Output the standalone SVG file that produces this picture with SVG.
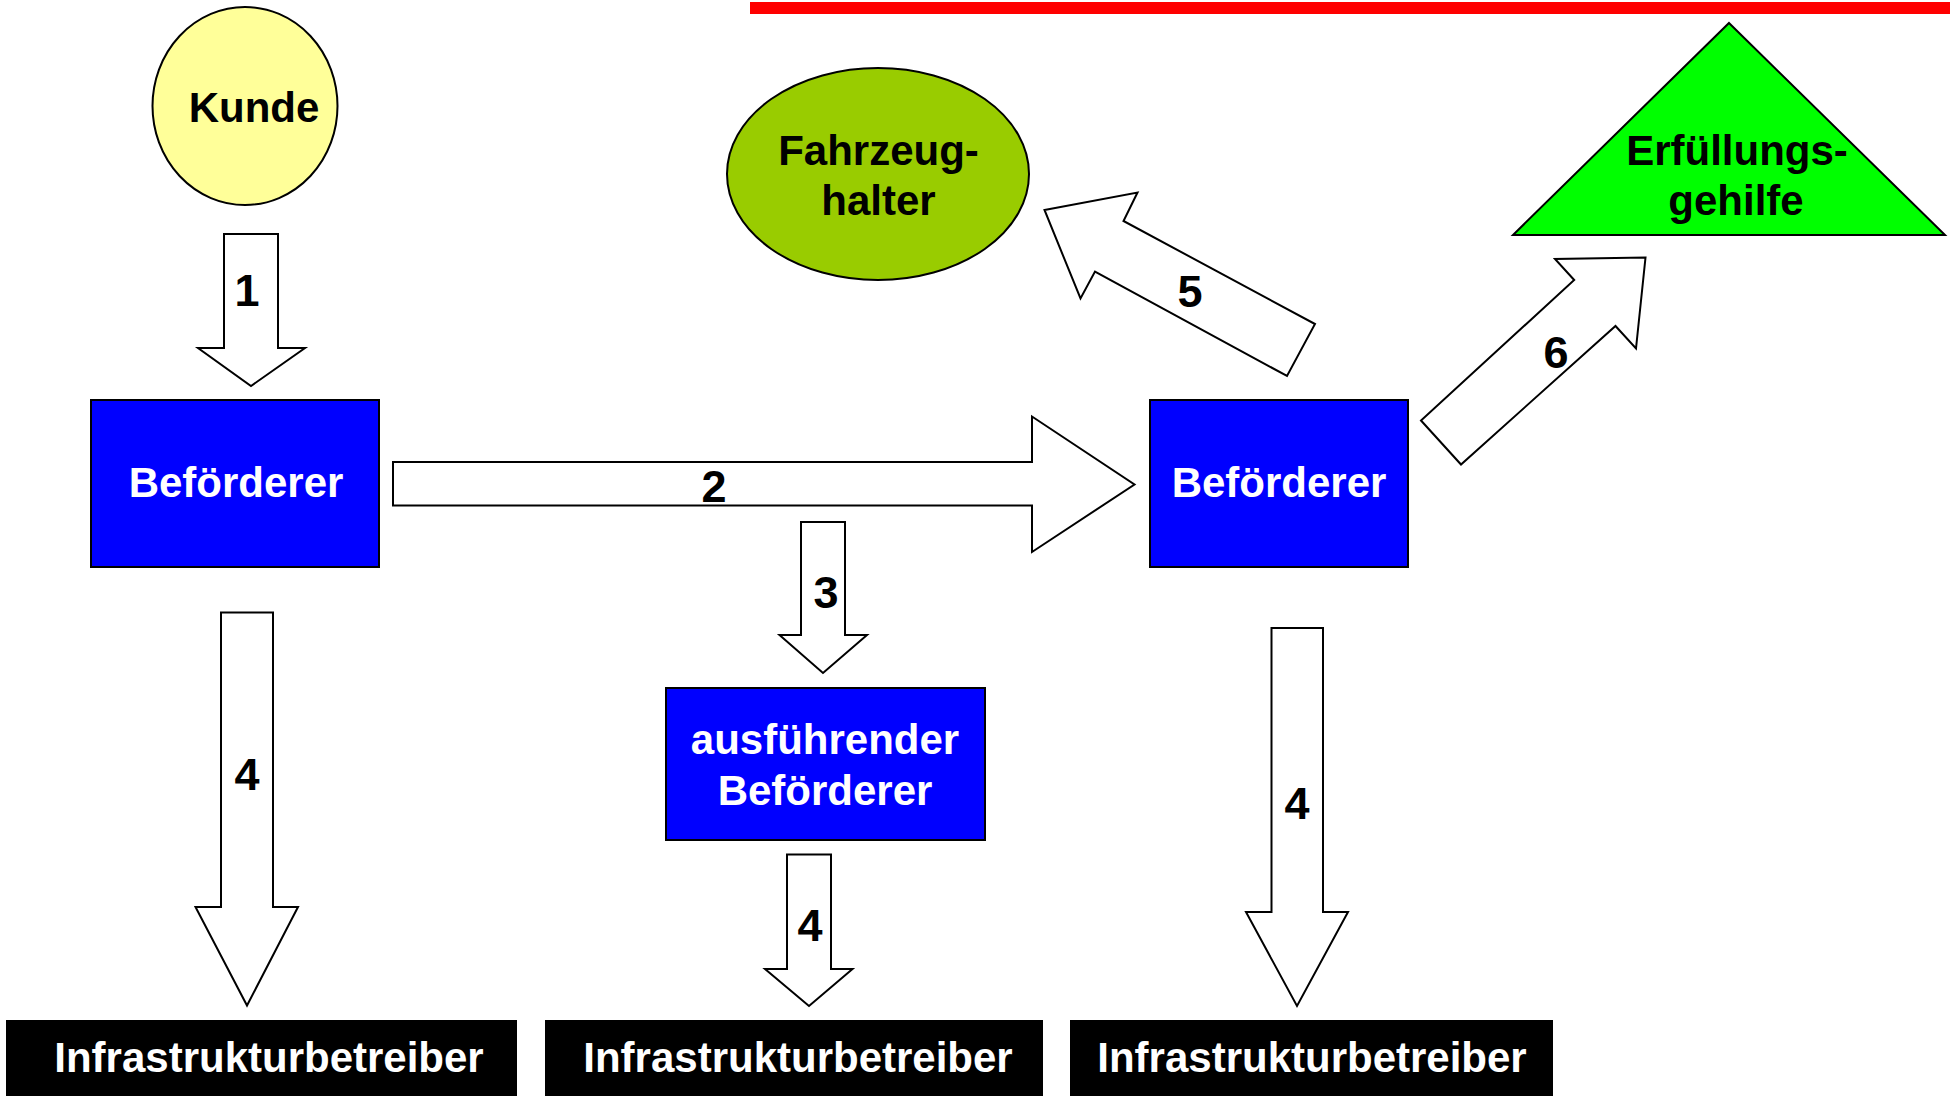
<svg xmlns="http://www.w3.org/2000/svg" width="1950" height="1096" viewBox="0 0 1950 1096">
<style>
text{font-family:"Liberation Sans",Arial,sans-serif;font-weight:bold;text-anchor:middle}
.t{font-size:42px;fill:#000}
.w{font-size:42px;fill:#fff}
.lbl{font-size:45px;fill:#000}
.box{fill:#0000FF;stroke:#000;stroke-width:2}
.infra{fill:#000}
.arr{fill:#fff;stroke:#000;stroke-width:2;stroke-linejoin:miter}
</style>
<rect x="0" y="0" width="1950" height="1096" fill="#fff"/>
<rect id="redline" x="750" y="2" width="1200" height="12" fill="#FF0000"/>

<g id="kunde">
<ellipse cx="245" cy="106" rx="92.5" ry="99" fill="#FFFF99" stroke="#000" stroke-width="2"/>
<text class="t" x="254" y="122">Kunde</text>
</g>

<g id="fahrzeughalter">
<ellipse cx="878" cy="174" rx="151" ry="106" fill="#99CC00" stroke="#000" stroke-width="2"/>
<text class="t" x="878.5" y="165">Fahrzeug-</text>
<text class="t" x="878.5" y="215">halter</text>
</g>

<g id="erfuellungsgehilfe">
<polygon points="1729,23 1945,235 1513,235" fill="#00FF00" stroke="#000" stroke-width="2"/>
<text class="t" x="1737" y="165">Erfüllungs-</text>
<text class="t" x="1736" y="215">gehilfe</text>
</g>

<g id="befoerderer1">
<rect class="box" x="91" y="400" width="288" height="167"/>
<text class="w" x="236" y="497">Beförderer</text>
</g>

<g id="befoerderer2">
<rect class="box" x="1150" y="400" width="258" height="167"/>
<text class="w" x="1279" y="497">Beförderer</text>
</g>

<g id="ausfuehrender">
<rect class="box" x="666" y="688" width="319" height="152"/>
<text class="w" x="825" y="754">ausführender</text>
<text class="w" x="825" y="805">Beförderer</text>
</g>

<g id="infra1">
<rect class="infra" x="6" y="1020" width="511" height="80"/>
<text class="w" x="269" y="1072">Infrastrukturbetreiber</text>
</g>
<g id="infra2">
<rect class="infra" x="545" y="1020" width="498" height="80"/>
<text class="w" x="798" y="1072">Infrastrukturbetreiber</text>
</g>
<g id="infra3">
<rect class="infra" x="1070" y="1020" width="483" height="80"/>
<text class="w" x="1312" y="1072">Infrastrukturbetreiber</text>
</g>

<g id="connectors">
<polygon class="arr" points="224,234 278,234 278,348 305,348 251,386 198,348 224,348"/>
<text class="lbl" x="247" y="306">1</text>

<polygon class="arr" points="393,462 1032,462 1032,416.5 1134.5,484.5 1032,552 1032,505.5 393,505.5"/>
<text class="lbl" x="714" y="502">2</text>

<polygon class="arr" points="801,522 845,522 845,635 867,635 823,673 779.5,635 801,635"/>
<text class="lbl" x="826" y="608">3</text>

<polygon class="arr" points="221,612.5 273,612.5 273,907 298,907 247,1005.5 195.5,907 221,907"/>
<text class="lbl" x="247" y="790">4</text>

<polygon class="arr" points="787,854.5 831,854.5 831,969 852.5,969 809,1006 765,969 787,969"/>
<text class="lbl" x="810" y="941">4</text>

<polygon class="arr" points="1271.5,628 1323,628 1323,912 1348,912 1297,1006 1246,912 1271.5,912"/>
<text class="lbl" x="1297" y="819">4</text>

<polygon class="arr" points="1044.5,210 1137.5,192.5 1123.5,221 1315,324 1287,376 1095,271.5 1080.5,298.5"/>
<text class="lbl" x="1190" y="307">5</text>

<polygon class="arr" points="1421,420.5 1461,464.5 1615.5,326 1636,348.5 1645.5,257.5 1555,259 1574.2,280"/>
<text class="lbl" x="1556" y="368">6</text>
</g>
</svg>
